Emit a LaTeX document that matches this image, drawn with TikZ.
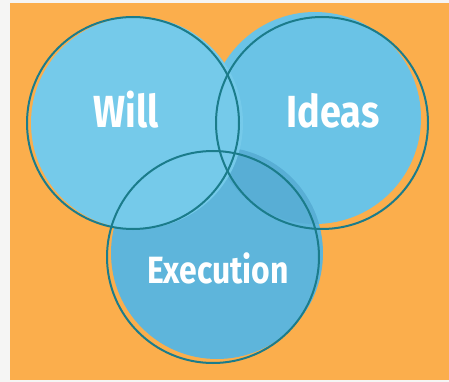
\documentclass[tikz,border=0pt]{standalone}
\usepackage{fontspec}
\setmainfont{Fira Sans}
\newfontfamily\narrowfont{Fira Sans}[FakeStretch=0.84]
\usepackage{tikz}
\definecolor{frame}{RGB}{245,245,244}
\definecolor{backdrop}{RGB}{251,174,76}
\definecolor{willblue}{RGB}{117,202,234}
\definecolor{ideablue}{RGB}{106,195,230}
\definecolor{execblue}{RGB}{94,181,219}
\definecolor{overlap}{RGB}{88,174,213}
\definecolor{rim}{RGB}{27,124,139}

\begin{document}
\begin{tikzpicture}[x=1pt, y=-1pt,
    ring/.style={circle, draw=rim, line width=2pt, minimum size=212pt, inner sep=0pt},
    word/.style={text=white, anchor=base, inner sep=0pt,
                 font=\narrowfont\bfseries\fontsize{#1}{#1}\selectfont}
]
    % Backdrop
    \fill[frame] (0,0) rectangle (449,382);
    \fill[backdrop] (10,3) rectangle (449,380);

    % Coloured discs, slightly off their rims
    \fill[ideablue] (315,118) circle (106);
    \fill[execblue] (217,253) circle (106);
    \begin{scope}
        \clip (315,118) circle (106);
        \fill[overlap] (217,253) circle (106);
    \end{scope}
    \fill[willblue] (137,123) circle (106);

    % Rims
    \node[ring] (will) at (133,123) {};
    \node[ring] (ideas) at (322,123) {};
    \node[ring] (execution) at (213,257) {};

    % Labels
    \node[word=45] (willlabel) at (126,128) {Will};
    \node[word=45] (ideaslabel) at (333,128) {Ideas};
    \node[word=38] (execlabel) at (218,283) {Execution};
\end{tikzpicture}
\end{document}
